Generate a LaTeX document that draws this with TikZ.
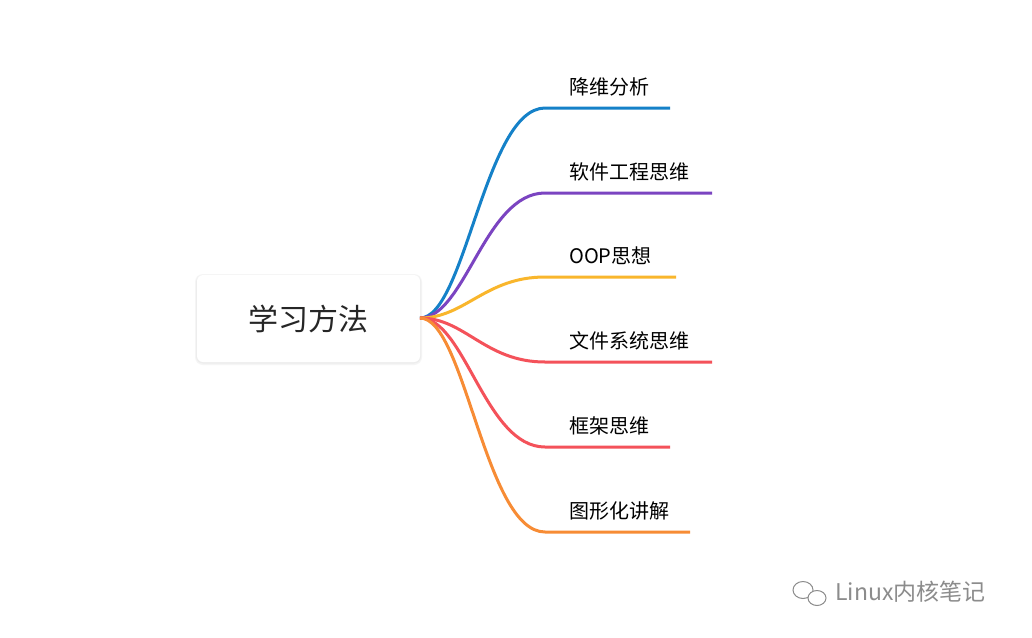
\documentclass[tikz,border=0pt]{standalone}
\usepackage{fontspec}
\setmainfont{Noto Sans CJK SC}
\definecolor{cb}{HTML}{1581C8}
\definecolor{cp}{HTML}{7B44C1}
\definecolor{cy}{HTML}{F9B62C}
\definecolor{cr}{HTML}{F4525A}
\definecolor{co}{HTML}{F78C35}
\tikzset{br/.style={line width=3pt},lab/.style={anchor=west,font=\fontsize{20}{20}\selectfont,text=black,inner sep=0pt}}
\begin{document}
\begin{tikzpicture}[x=1pt,y=-1pt]
\useasboundingbox[fill=white] (0,0) rectangle (1032,637);
\fill[black!4,rounded corners=8pt] (195,274) rectangle (422,365);
\fill[black!7,rounded corners=7pt] (196,275) rectangle (421,363.5);
\node[fill=white,rounded corners=6pt,minimum width=223pt,minimum height=87pt,font=\fontsize{30}{30}\selectfont,text=black!85] (root) at (308.5,318.5) {学习方法};
\coordinate (s) at (420,318);
\foreach \y/\e/\c/\t [count=\i] in {108/670/cb/降维分析,193/712/cp/软件工程思维,277/676/cy/OOP思想,362/712/cr/文件系统思维,447/670/cr/框架思维,532/690/co/图形化讲解}{
  \coordinate (a\i) at (545,\y);
  \coordinate (b\i) at (\e,\y);
  \draw[br,\c] (s) .. controls (465,318) and (485,\y) .. (a\i) -- (b\i);
  \node[lab] (t\i) at (569,\y-21) {\t};
}
\node[anchor=west,text=black!45,font=\fontsize{23}{23}\selectfont,inner sep=0pt] (wm) at (835,592) {Linux内核笔记};
\begin{scope}[black!45,line width=1pt]
\draw (803,590) ellipse (10pt and 8.5pt);
\draw[fill=white] (817,598) ellipse (9pt and 7.5pt);
\end{scope}
\end{tikzpicture}
\end{document}
